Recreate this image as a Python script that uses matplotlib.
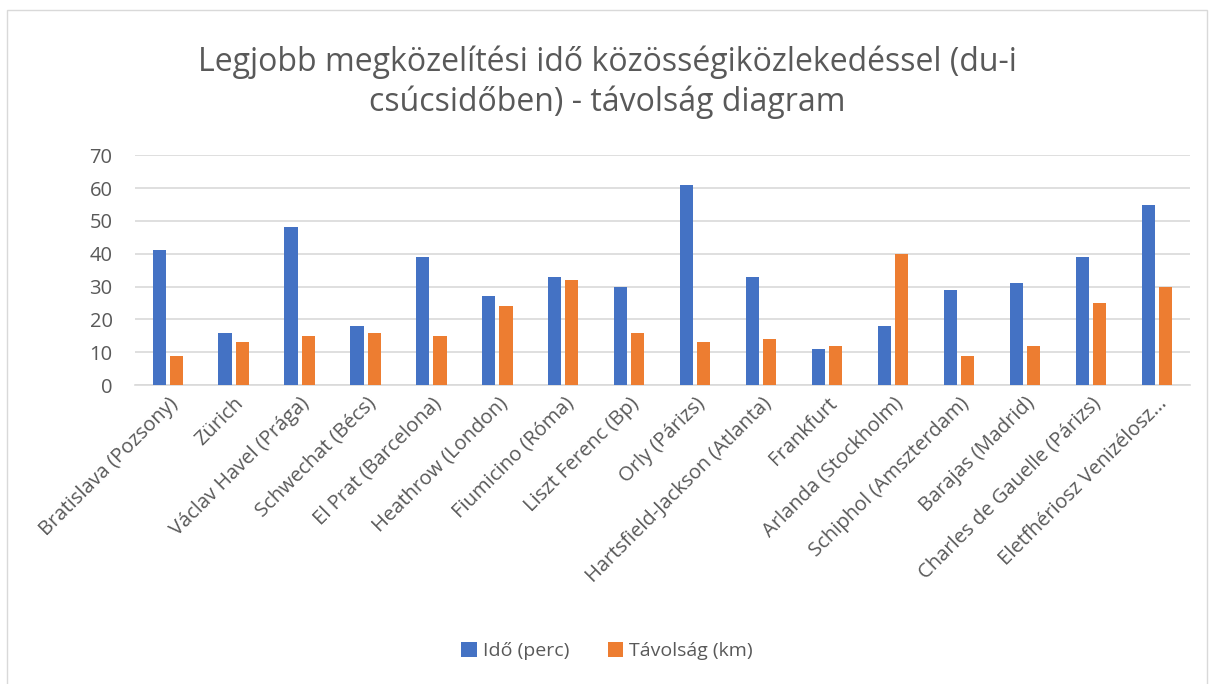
import matplotlib.pyplot as plt
import numpy as np
from matplotlib.patches import Rectangle

plt.rcParams['font.family'] = ['Open Sans', 'DejaVu Sans']

categories = ['Bratislava (Pozsony)', 'Zürich', 'Václav Havel (Prága)', 'Schwechat (Bécs)',
              'El Prat (Barcelona)', 'Heathrow (London)', 'Fiumicino (Róma)', 'Liszt Ferenc (Bp)',
              'Orly (Párizs)', 'Hartsfield-Jackson (Atlanta)', 'Frankfurt', 'Arlanda (Stockholm)',
              'Schiphol (Amszterdam)', 'Barajas (Madrid)', 'Charles de Gauelle (Párizs)',
              'Eletfhériosz Venizélosz...']
ido = [41, 16, 48, 18, 39, 27, 33, 30, 61, 33, 11, 18, 29, 31, 39, 55]
tavolsag = [9, 13, 15, 16, 15, 24, 32, 16, 13, 14, 12, 40, 9, 12, 25, 30]

blue = '#4472C4'
orange = '#ED7D31'
grey = '#595959'

fig = plt.figure(figsize=(12.14, 6.84), dpi=100)
ax = fig.add_axes([0.111, 0.437, 0.869, 0.336])

x = np.arange(len(categories))
w = 0.2
ax.bar(x - 0.13, ido, w, color=blue, label='Idő (perc)', zorder=3)
ax.bar(x + 0.13, tavolsag, w, color=orange, label='Távolság (km)', zorder=3)

ax.set_xlim(-0.5, len(categories) - 0.5)
ax.set_ylim(0, 70)
ax.set_yticks(range(0, 71, 10))
ax.yaxis.grid(True, color='#D9D9D9', linewidth=1.2, zorder=0)
for s in ['top', 'right', 'left']:
    ax.spines[s].set_visible(False)
ax.spines['bottom'].set_color('#D9D9D9')
ax.spines['bottom'].set_linewidth(1.2)
ax.tick_params(axis='both', length=0, colors=grey, labelsize=14.5)
ax.tick_params(axis='y', pad=16)
ax.tick_params(axis='x', pad=6)
ax.set_xticks(x)
ax.set_xticklabels(categories, rotation=45, ha='right', rotation_mode='anchor')

fig.text(0.5, 0.88, 'Legjobb megközelítési idő közösségiközlekedéssel (du-i\ncsúcsidőben) - távolság diagram',
         ha='center', va='center', fontsize=23, color=grey, linespacing=1.25)

fig.legend(loc='center', bbox_to_anchor=(0.5, 0.048), ncol=2, frameon=False,
           fontsize=14, labelcolor=grey, handlelength=0.8, handleheight=0.8,
           columnspacing=2.0, handletextpad=0.3)

fig.patches.append(Rectangle((0.006, -0.01), 0.988, 0.995, transform=fig.transFigure,
                             fill=False, edgecolor='#D9D9D9', linewidth=1))

fig.savefig('out.png', dpi=100)
